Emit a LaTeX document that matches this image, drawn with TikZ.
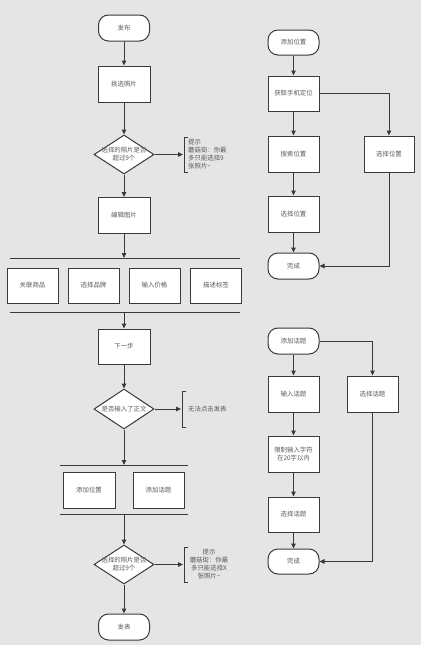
\documentclass[tikz,border=0pt]{standalone}
\usepackage{fontspec}
\newfontfamily\cjk{Noto Sans CJK SC}
\usetikzlibrary{arrows.meta,shapes.geometric}
\definecolor{bgC}{HTML}{E5E5E5}
\definecolor{lineC}{HTML}{3A3A3A}
\definecolor{txtC}{HTML}{5A5A5A}
\begin{document}
\begin{tikzpicture}[x=1pt,y=-1pt,
  txt/.style={font=\cjk\fontsize{6.4}{8}\selectfont, text=txtC},
  box/.style={txt, draw=lineC, fill=white, line width=1pt, minimum width=52pt, minimum height=36pt, inner sep=1pt, align=center},
  term/.style={box, minimum width=51pt, minimum height=26pt, rounded corners=10pt},
  dec/.style={draw=lineC, fill=white, line width=1pt, diamond, minimum width=60pt, minimum height=39pt, inner sep=0pt},
  dtext/.style={txt, align=center, inner sep=0pt},
  arr/.style={draw=lineC, line width=1pt, -{Triangle[length=5pt,width=4.5pt]}},
  bar/.style={draw=lineC, line width=0.8pt},
  brk/.style={draw=lineC, line width=0.8pt}
]
\fill[bgC] (0,0) rectangle (421,645);
\useasboundingbox (0,0) rectangle (421,645);

% ---------------- left column ----------------
\node[term] (start) at (124,28) {发布};
\node[box] (pick) at (124,84) {挑选照片};
\node[dec] (d1) at (124,154.5) {};
\node[dtext] (d1t) at (124,154.5) {选择的照片是否\\超过9个};
\coordinate (n1) at (183,154.5);
\node[txt, anchor=west, align=left, inner sep=0pt] (n1t) at (188,154.5) {提示\\蘑菇街：你最\\多只能选择9\\张照片\textasciitilde};
\node[box] (edit) at (124,215.5) {编辑图片};

\coordinate (b1) at (124,258);
\coordinate (b1l) at (10,258);
\coordinate (b1r) at (240,258);
\node[box, minimum width=51pt, minimum height=35pt] (g1) at (32.5,285.5) {关联商品};
\node[box, minimum width=51pt, minimum height=35pt] (g2) at (93.5,285.5) {选择品牌};
\node[box, minimum width=51pt, minimum height=35pt] (g3) at (154.5,285.5) {输入价格};
\node[box, minimum width=51pt, minimum height=35pt] (g4) at (216,285.5) {描述标签};
\coordinate (b2) at (124,312);
\coordinate (b2l) at (10,312);
\coordinate (b2r) at (240,312);

\node[box, minimum height=35pt] (next) at (124,346.5) {下一步};
\node[dec, minimum height=40pt] (d2) at (124,409) {};
\node[dtext] (d2t) at (124,409) {是否输入了正文};
\coordinate (n2) at (181,409);
\node[txt, anchor=west, inner sep=0pt] (n2t) at (188,409) {无法点击发表};

\coordinate (b3) at (124,465);
\coordinate (b3l) at (60,465);
\coordinate (b3r) at (188,465);
\node[box] (addloc) at (89,490) {添加位置};
\node[box, minimum width=51pt] (addtop) at (158.5,490) {添加话题};
\coordinate (b4) at (124,514);
\coordinate (b4l) at (60,514);
\coordinate (b4r) at (188,514);

\node[dec] (d3) at (124,564.5) {};
\node[dtext] (d3t) at (124,564.5) {选择的照片是否\\超过9个};
\coordinate (n3) at (183,564.5);
\node[txt, align=center, inner sep=0pt] (n3t) at (209,564.5) {提示\\蘑菇街：你最\\多只能选择X\\张照片\textasciitilde};
\node[term] (pub) at (124,627) {发表};

% connectors left
\draw[arr] (start) -- (pick);
\draw[arr] (pick) -- (d1);
\draw[arr] (d1) -- (edit);
\draw[arr] (d1.east) -- (n1);
\draw[brk] (188,137) -- (184,137) -- (184,172) -- (188,172);
\draw[arr] (edit) -- (b1);
\draw[bar] (b1l) -- (b1r);
\draw[bar] (b2l) -- (b2r);
\draw[arr] (b2) -- (next);
\draw[arr] (next) -- (d2);
\draw[arr] (d2.east) -- (n2);
\draw[brk] (186,391) -- (182,391) -- (182,427) -- (186,427);
\draw[arr] (d2) -- (b3);
\draw[bar] (b3l) -- (b3r);
\draw[bar] (b4l) -- (b4r);
\draw[arr] (b4) -- (d3);
\draw[arr] (d3.east) -- (n3);
\draw[brk] (188,547) -- (184,547) -- (184,582) -- (188,582);
\draw[arr] (d3) -- (pub);

% ---------------- right top ----------------
\node[term, minimum height=25pt] (rs) at (293.5,42.5) {添加位置};
\node[box, minimum width=51pt, minimum height=35pt] (loc) at (293.5,93.5) {获取手机定位};
\node[box, minimum width=51pt] (search) at (293.5,154) {搜索位置};
\node[box, minimum width=51pt] (sel1) at (293.5,214) {选择位置};
\node[term] (done1) at (293.5,266) {完成};
\node[box, minimum width=50pt] (selR) at (389,154) {选择位置};
\draw[arr] (rs) -- (loc);
\draw[arr] (loc) -- (search);
\draw[arr] (search) -- (sel1);
\draw[arr] (sel1) -- (done1);
\draw[arr] (loc.east) -| (selR.north);
\draw[arr] (selR.south) |- (done1.east);

% ---------------- right bottom ----------------
\node[term] (ts) at (293.5,341) {添加话题};
\node[box, minimum width=51pt] (inp) at (293.5,394) {输入话题};
\node[box, minimum width=51pt] (lim) at (293.5,454) {限制输入字符\\在20字以内};
\node[box, minimum width=51pt, minimum height=35pt] (sel2) at (293.5,514.5) {选择话题};
\node[term, minimum height=25pt] (done2) at (293.5,561.5) {完成};
\node[box, minimum width=51pt] (selT) at (372.5,394) {选择话题};
\draw[arr] (ts) -- (inp);
\draw[arr] (inp) -- (lim);
\draw[arr] (lim) -- (sel2);
\draw[arr] (sel2) -- (done2);
\draw[arr] (ts.east) -| (selT.north);
\draw[arr] (selT.south) |- (done2.east);
\end{tikzpicture}
\end{document}
